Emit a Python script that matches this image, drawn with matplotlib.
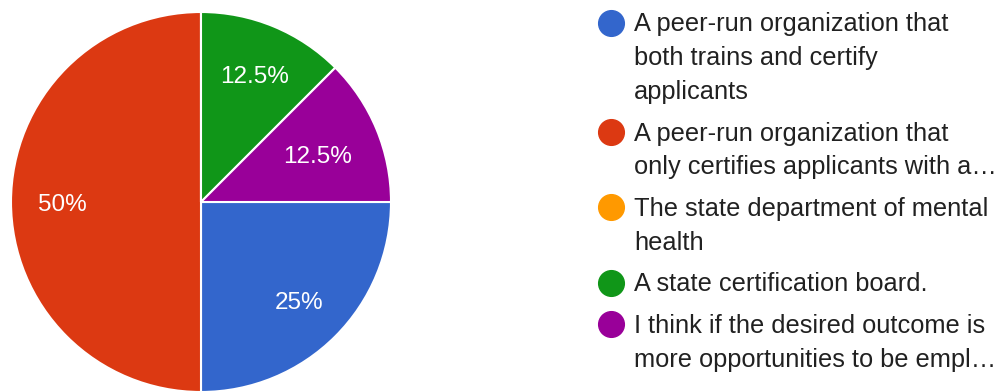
import matplotlib; matplotlib.use("Agg")
import matplotlib.pyplot as plt

plt.rcParams['font.family'] = ['Liberation Sans', 'DejaVu Sans']

# ---- survey responses ----
labels = [
    "A peer-run organization that\nboth trains and certify\napplicants",
    "A peer-run organization that\nonly certifies applicants with a\u2026",
    "The state department of mental\nhealth",
    "A state certification board.",
    "I think if the desired outcome is\nmore opportunities to be empl\u2026",
]
shares = [25, 50, 0, 12.5, 12.5]
colors = ["#3366cc", "#dc3912", "#ff9900", "#109618", "#990099"]

W, H = 1007, 392
fig = plt.figure(figsize=(W / 100, H / 100), dpi=100)

# pie: centre (201, 202) px, radius 190 px
cx, cy, r = 201, 202, 190
ax = fig.add_axes([(cx - r) / W, (H - cy - r) / H, 2 * r / W, 2 * r / H])
wedges, texts, autotexts = ax.pie(
    shares, colors=colors, startangle=0, counterclock=False,
    autopct=lambda p: "" if p == 0 else ("%g%%" % round(p, 1)),
    pctdistance=0.73, radius=1.0,
    wedgeprops=dict(edgecolor="white", linewidth=1.5),
    textprops=dict(color="white", fontsize=17.5))
# last slice's label is pulled a bit towards the centre; all labels sit ~3px lower
for i, t in enumerate(autotexts):
    x, y = t.get_position()
    k = 0.91 if i == len(autotexts) - 1 else 1.0
    t.set_position((x * k, y * k - 3.0 / r))
ax.set_xlim(-1, 1); ax.set_ylim(-1, 1)
ax.set_aspect("equal")
ax.axis("off")

# ---- legend, drawn by hand so wrapped lines sit like the form's ----
line_h = 33.8
gap = 41.5
y = 23.0
for lab, col in zip(labels, colors):
    fig.add_artist(plt.Line2D([611 / W], [1 - y / H], marker="o", markersize=18.5,
                              color=col, linestyle="none", transform=fig.transFigure))
    lines = lab.split("\n")
    for i, ln in enumerate(lines):
        fig.text(634 / W, 1 - (y + 1.5 + i * line_h) / H, ln, fontsize=18.3,
                 color="#212121", va="center", ha="left")
    y += (len(lines) - 1) * line_h + gap

fig.savefig("out.png", dpi=100, facecolor="white")
